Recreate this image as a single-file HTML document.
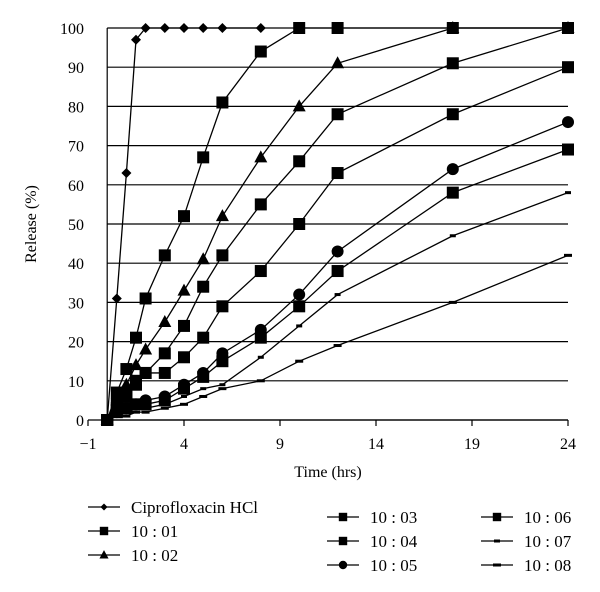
<!DOCTYPE html>
<html><head><meta charset="utf-8"><style>
body{margin:0;background:#fff;}
svg{display:block;font-family:"Liberation Serif",serif;}
</style></head><body>
<svg id="chart" width="600" height="592"></svg>
<script>
const times=[0,0.5,1,1.5,2,3,4,5,6,8,10,12,18,24];
const seriesNames=["Ciprofloxacin HCl","10 : 01","10 : 02","10 : 03","10 : 04","10 : 05","10 : 06","10 : 07","10 : 08"];
const cipro=[0,31,63,97,100,100,100,100,100,100];
const s1001=[0,7,13,21,31,42,52,67,81,94,100,100,100,100];
const s1002=[0,5,9,14,18,25,33,41,52,67,80,91,100,100];
const s1003=[0,4,7,10,12,17,24,34,42,55,66,78,91,100];
const s1004=[0,3,6,9,12,12,16,21,29,38,50,63,78,90];
const s1005=[0,2,3,4,5,6,9,12,17,23,32,43,64,76];
const s1006=[0,2,3,4,4,5,8,11,15,21,29,38,58,69];
const s1007=[0,1,2,3,3,4,6,8,9,16,24,32,47,58];
const s1008=[0,1,1,2,2,3,4,6,8,10,15,19,30,42];
const xTicks=[-1,4,9,14,19,24];
const yTicks=[0,10,20,30,40,50,60,70,80,90,100];
const markers=["diamond","square","triangle","square","square","circle","square","dash","dash2"];
const allSeries=[cipro,s1001,s1002,s1003,s1004,s1005,s1006,s1007,s1008];

const NS="http://www.w3.org/2000/svg";
const svg=document.getElementById("chart");
const X=v=>88+(v+1)*19.2;
const Y=v=>420-v*3.92;
function el(tag,attrs,parent){const e=document.createElementNS(NS,tag);for(const k in attrs)e.setAttribute(k,attrs[k]);(parent||svg).appendChild(e);return e;}
function marker(type,cx,cy,g,s){
  s=s||1;let e;
  if(type==="diamond")e=el("polygon",{points:`${cx},${cy-5*s} ${cx+5*s},${cy} ${cx},${cy+5*s} ${cx-5*s},${cy}`,fill:"#000"},g);
  else if(type==="square")e=el("rect",{x:cx-6*s,y:cy-6*s,width:12*s,height:12*s,fill:"#000"},g);
  else if(type==="triangle")e=el("polygon",{points:`${cx},${cy-7*s} ${cx+6.5*s},${cy+5*s} ${cx-6.5*s},${cy+5*s}`,fill:"#000"},g);
  else if(type==="circle")e=el("circle",{cx:cx,cy:cy,r:6*s,fill:"#000"},g);
  else if(type==="dash")e=el("rect",{x:cx-3,y:cy-1.5,width:6,height:3,fill:"#000"},g);
  else e=el("rect",{x:cx-4,y:cy-1.5,width:8,height:3,fill:"#000"},g);
  return e;
}
yTicks.forEach(t=>{
  const l=el("line",{x1:X(0),x2:X(24),y1:Y(t),y2:Y(t),stroke:"#000","stroke-width":1.2});
  
  
  const tx=el("text",{x:84,y:Y(t)+6,"text-anchor":"end","font-size":16});
  tx.textContent=t;
  
  
});
const ya=el("line",{x1:X(0),x2:X(0),y1:Y(0),y2:Y(100),stroke:"#000","stroke-width":1.2});


const xa=el("line",{x1:X(-1),x2:X(24),y1:Y(0),y2:Y(0),stroke:"#000","stroke-width":1.2});


xTicks.forEach(t=>{
  const tk=el("line",{x1:X(t),x2:X(t),y1:Y(0),y2:Y(0)+6,stroke:"#000","stroke-width":1.2});
  
  
  const tx=el("text",{x:X(t),y:449,"text-anchor":"middle","font-size":16});
  tx.textContent=t<0?"\u2212"+Math.abs(t):t;
  
  
});
const xt=el("text",{x:328,y:477,"text-anchor":"middle","font-size":16});
xt.textContent="Time (hrs)";


const yt=el("text",{x:0,y:0,"text-anchor":"middle","font-size":16,transform:"translate(36,224) rotate(-90)"});
yt.textContent="Release (%)";


allSeries.forEach((vals,i)=>{
  const g=el("g",{});
  
  
  const pts=vals.map((v,j)=>X(times[j])+","+Y(v)).join(" ");
  el("polyline",{points:pts,fill:"none",stroke:"#000","stroke-width":1.3},g);
  vals.forEach((v,j)=>{
    const m=marker(markers[i],X(times[j]),Y(v),g);
    
    
  });
});
const legPos=[[88,507],[88,531],[88,555],[327,517],[327,541],[327,565],[481,517],[481,541],[481,565]];
seriesNames.forEach((n,i)=>{
  const [lx,ly]=legPos[i];
  const g=el("g",{});
  
  
  el("line",{x1:lx,x2:lx+32,y1:ly,y2:ly,stroke:"#000","stroke-width":1.3},g);
  marker(markers[i],lx+16,ly,g,0.7);
  const t=el("text",{x:lx+43,y:ly+6,"font-size":17},g);
  t.textContent=n;
});
</script>
</body></html>
